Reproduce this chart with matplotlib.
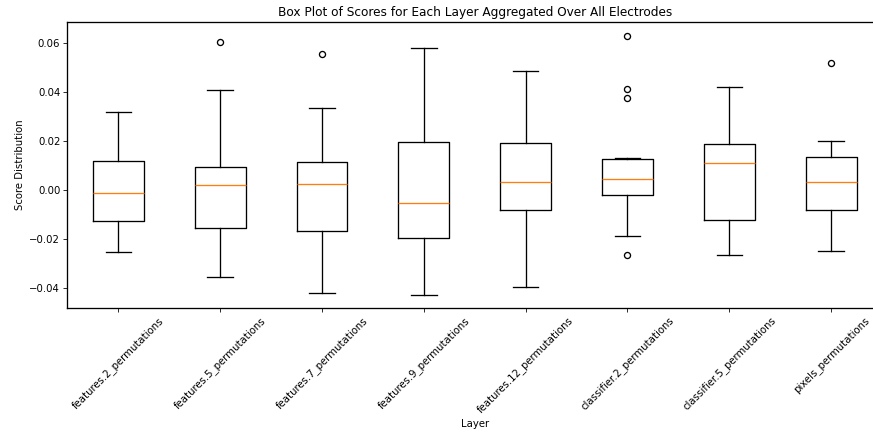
import matplotlib

matplotlib.use("Agg")
import matplotlib.pyplot as plt

# per-layer summary statistics of the scores across electrodes
layers = [
    "features.2_permutations",
    "features.5_permutations",
    "features.7_permutations",
    "features.9_permutations",
    "features.12_permutations",
    "classifier.2_permutations",
    "classifier.5_permutations",
    "pixels_permutations",
]
whislo = [-0.0253, -0.0353, -0.0420, -0.0425, -0.0394, -0.0186, -0.0262, -0.0246]
q1 = [-0.0125, -0.0154, -0.0166, -0.0194, -0.0080, -0.0019, -0.0120, -0.0080]
med = [-0.0010, 0.0023, 0.0027, -0.0052, 0.0035, 0.0045, 0.0111, 0.0035]
q3 = [0.0121, 0.0096, 0.0114, 0.0196, 0.0192, 0.0126, 0.0190, 0.0136]
whishi = [0.0320, 0.0409, 0.0335, 0.0581, 0.0487, 0.0132, 0.0420, 0.0202]
fliers = [
    [],
    [0.0604],
    [0.0554],
    [],
    [],
    [0.0630, 0.0412, 0.0377, -0.0262],
    [],
    [0.0520],
]

stats = [
    {"label": name, "whislo": lo, "q1": a, "med": m, "q3": b, "whishi": hi, "fliers": fl}
    for name, lo, a, m, b, hi, fl in zip(layers, whislo, q1, med, q3, whishi, fliers)
]

dpi = 72.75
lw = 1.3
fig = plt.figure(figsize=(873 / dpi, 437 / dpi), dpi=dpi)
ax = fig.add_axes([67.4 / 873, 1 - 308 / 437, (882 - 67.4) / 873, (308 - 22.3) / 437])
ax.bxp(
    stats,
    boxprops={"linewidth": lw},
    whiskerprops={"linewidth": lw},
    capprops={"linewidth": lw},
    medianprops={"linewidth": lw, "color": "#ff7f0e"},
    flierprops={"markeredgewidth": lw},
)
ax.set_ylim(-0.048, 0.0685)
ax.set_title("Box Plot of Scores for Each Layer Aggregated Over All Electrodes")
ax.set_xlabel("Layer")
ax.set_ylabel("Score Distribution")
ax.set_xticks(range(1, len(layers) + 1))
ax.set_xticklabels(layers, rotation=45)
for spine in ax.spines.values():
    spine.set_linewidth(lw)

fig.savefig("out.png", dpi=dpi)
